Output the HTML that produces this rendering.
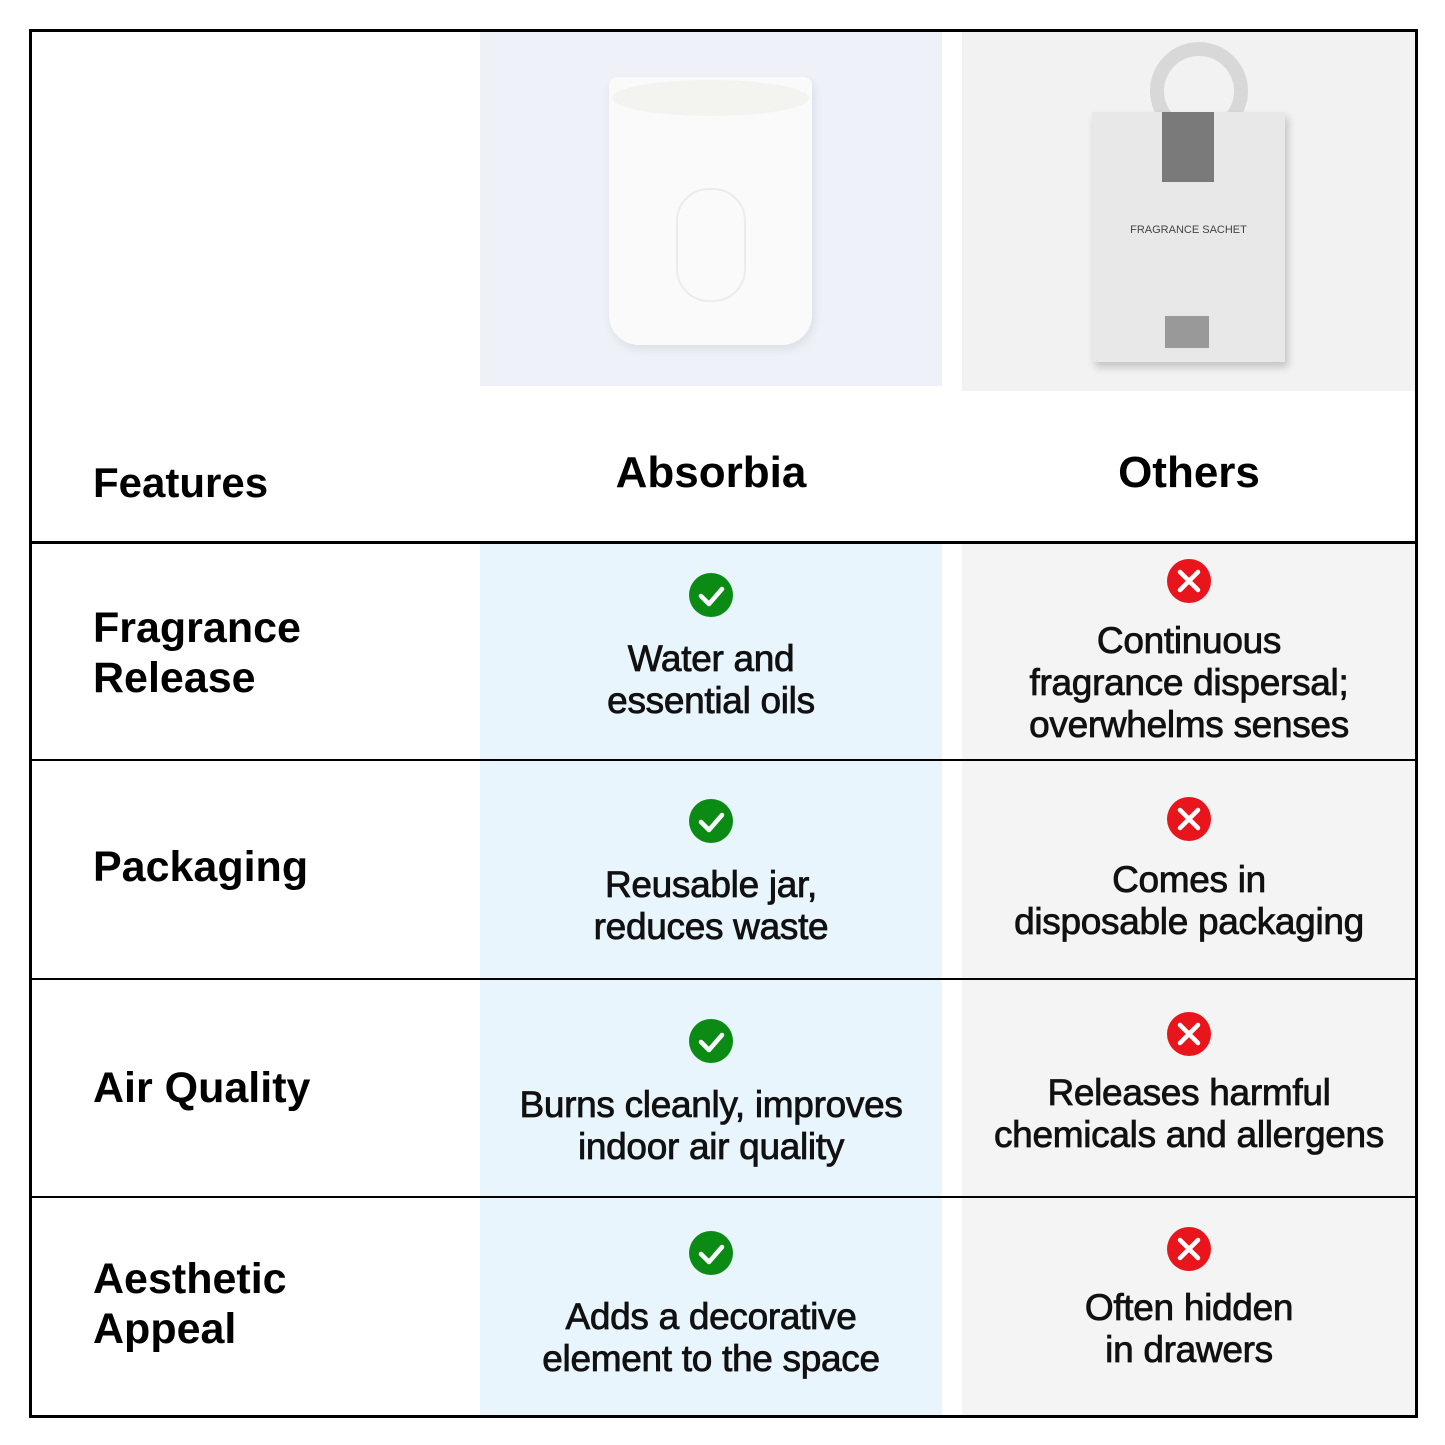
<!DOCTYPE html>
<html><head><style>
body{margin:0;width:1445px;height:1445px;background:#fff;position:relative;overflow:hidden;font-family:"Liberation Sans",sans-serif;}
.a{position:absolute;}
.t{position:absolute;font-weight:bold;color:#000;}
.f{left:93px;font-size:43px;line-height:50px;}
.c{text-align:center;font-size:37px;line-height:42px;font-weight:normal;letter-spacing:-0.3px;color:#111;-webkit-text-stroke:0.8px #111;}
.ok{position:absolute;width:44px;height:44px;border-radius:50%;background:#0b8a14;}
.no{position:absolute;width:44px;height:44px;border-radius:50%;background:#e8151d;}
</style></head><body>
<div class="a" style="left:480px;top:31px;width:462px;height:355px;background:#eef1f8"></div>
<div class="a" style="left:962px;top:31px;width:454px;height:360px;background:#f2f2f2"></div>
<div class="a" style="left:480px;top:543px;width:462px;height:872px;background:#e9f5fd"></div>
<div class="a" style="left:962px;top:543px;width:454px;height:872px;background:#f4f4f4"></div>
<!-- candle -->
<div class="a" style="left:609px;top:77px;width:203px;height:268px;background:#fafafa;border-radius:8px 8px 30px 30px;box-shadow:2px 4px 10px rgba(0,0,0,0.08)"></div>
<div class="a" style="left:612px;top:80px;width:197px;height:36px;background:#f3f3f0;border-radius:50%"></div>
<div class="a" style="left:676px;top:188px;width:66px;height:110px;border:2px solid #ececec;border-radius:33px"></div>
<!-- sachet -->
<div class="a" style="left:1150px;top:42px;width:70px;height:70px;border:14px solid #d8d8d8;border-radius:50%;border-bottom-color:transparent;border-left-color:#d8d8d8"></div>
<div class="a" style="left:1092px;top:112px;width:193px;height:250px;background:#e8e8e8;box-shadow:3px 5px 8px rgba(0,0,0,0.2)"></div>
<div class="a" style="left:1162px;top:112px;width:52px;height:70px;background:#7a7a7a"></div>
<div class="t" style="left:1092px;top:224px;width:193px;text-align:center;font-size:11px;font-weight:normal;color:#444">FRAGRANCE SACHET</div>
<div class="a" style="left:1165px;top:316px;width:44px;height:32px;background:#999"></div>
<!-- grid -->
<div class="a" style="left:29px;top:29px;width:1383px;height:1383px;border:3px solid #000"></div>
<div class="a" style="left:29px;top:541px;width:1389px;height:3px;background:#000"></div>
<div class="a" style="left:29px;top:759px;width:1389px;height:2px;background:#000"></div>
<div class="a" style="left:29px;top:978px;width:1389px;height:2px;background:#000"></div>
<div class="a" style="left:29px;top:1196px;width:1389px;height:2px;background:#000"></div>
<!-- header -->
<div class="t" style="left:93px;top:458px;font-size:42px;line-height:50px">Features</div>
<div class="t" style="left:480px;top:448px;width:462px;text-align:center;font-size:44px;line-height:50px">Absorbia</div>
<div class="t" style="left:962px;top:448px;width:454px;text-align:center;font-size:44px;line-height:50px">Others</div>
<!-- rows -->
<div class="t f" style="top:603px">Fragrance<br>Release</div>
<div class="t f" style="top:842px">Packaging</div>
<div class="t f" style="top:1063px">Air Quality</div>
<div class="t f" style="top:1254px">Aesthetic<br>Appeal</div>

<div class="ok" style="left:689px;top:573px"></div>
<div class="ok" style="left:689px;top:799px"></div>
<div class="ok" style="left:689px;top:1019px"></div>
<div class="ok" style="left:689px;top:1231px"></div>
<div class="no" style="left:1167px;top:559px"></div>
<div class="no" style="left:1167px;top:797px"></div>
<div class="no" style="left:1167px;top:1012px"></div>
<div class="no" style="left:1167px;top:1227px"></div>
<svg class="a" style="left:0;top:0" width="1445" height="1445">
<g stroke="#fff" stroke-width="4.5" fill="none" stroke-linecap="round" stroke-linejoin="round">
<path d="M701 596l8 8 13-15"/><path d="M701 822l8 8 13-15"/><path d="M701 1042l8 8 13-15"/><path d="M701 1254l8 8 13-15"/>
<path d="M1180 572l18 18M1198 572l-18 18"/><path d="M1180 810l18 18M1198 810l-18 18"/><path d="M1180 1025l18 18M1198 1025l-18 18"/><path d="M1180 1240l18 18M1198 1240l-18 18"/>
</g></svg>

<div class="t c" style="left:480px;top:638px;width:462px">Water and<br>essential oils</div>
<div class="t c" style="left:480px;top:864px;width:462px">Reusable jar,<br>reduces waste</div>
<div class="t c" style="left:480px;top:1084px;width:462px">Burns cleanly, improves<br>indoor air quality</div>
<div class="t c" style="left:480px;top:1296px;width:462px">Adds a decorative<br>element to the space</div>
<div class="t c" style="left:962px;top:620px;width:454px">Continuous<br>fragrance dispersal;<br>overwhelms senses</div>
<div class="t c" style="left:962px;top:859px;width:454px">Comes in<br>disposable packaging</div>
<div class="t c" style="left:962px;top:1072px;width:454px">Releases harmful<br>chemicals and allergens</div>
<div class="t c" style="left:962px;top:1287px;width:454px">Often hidden<br>in drawers</div>
</body></html>
